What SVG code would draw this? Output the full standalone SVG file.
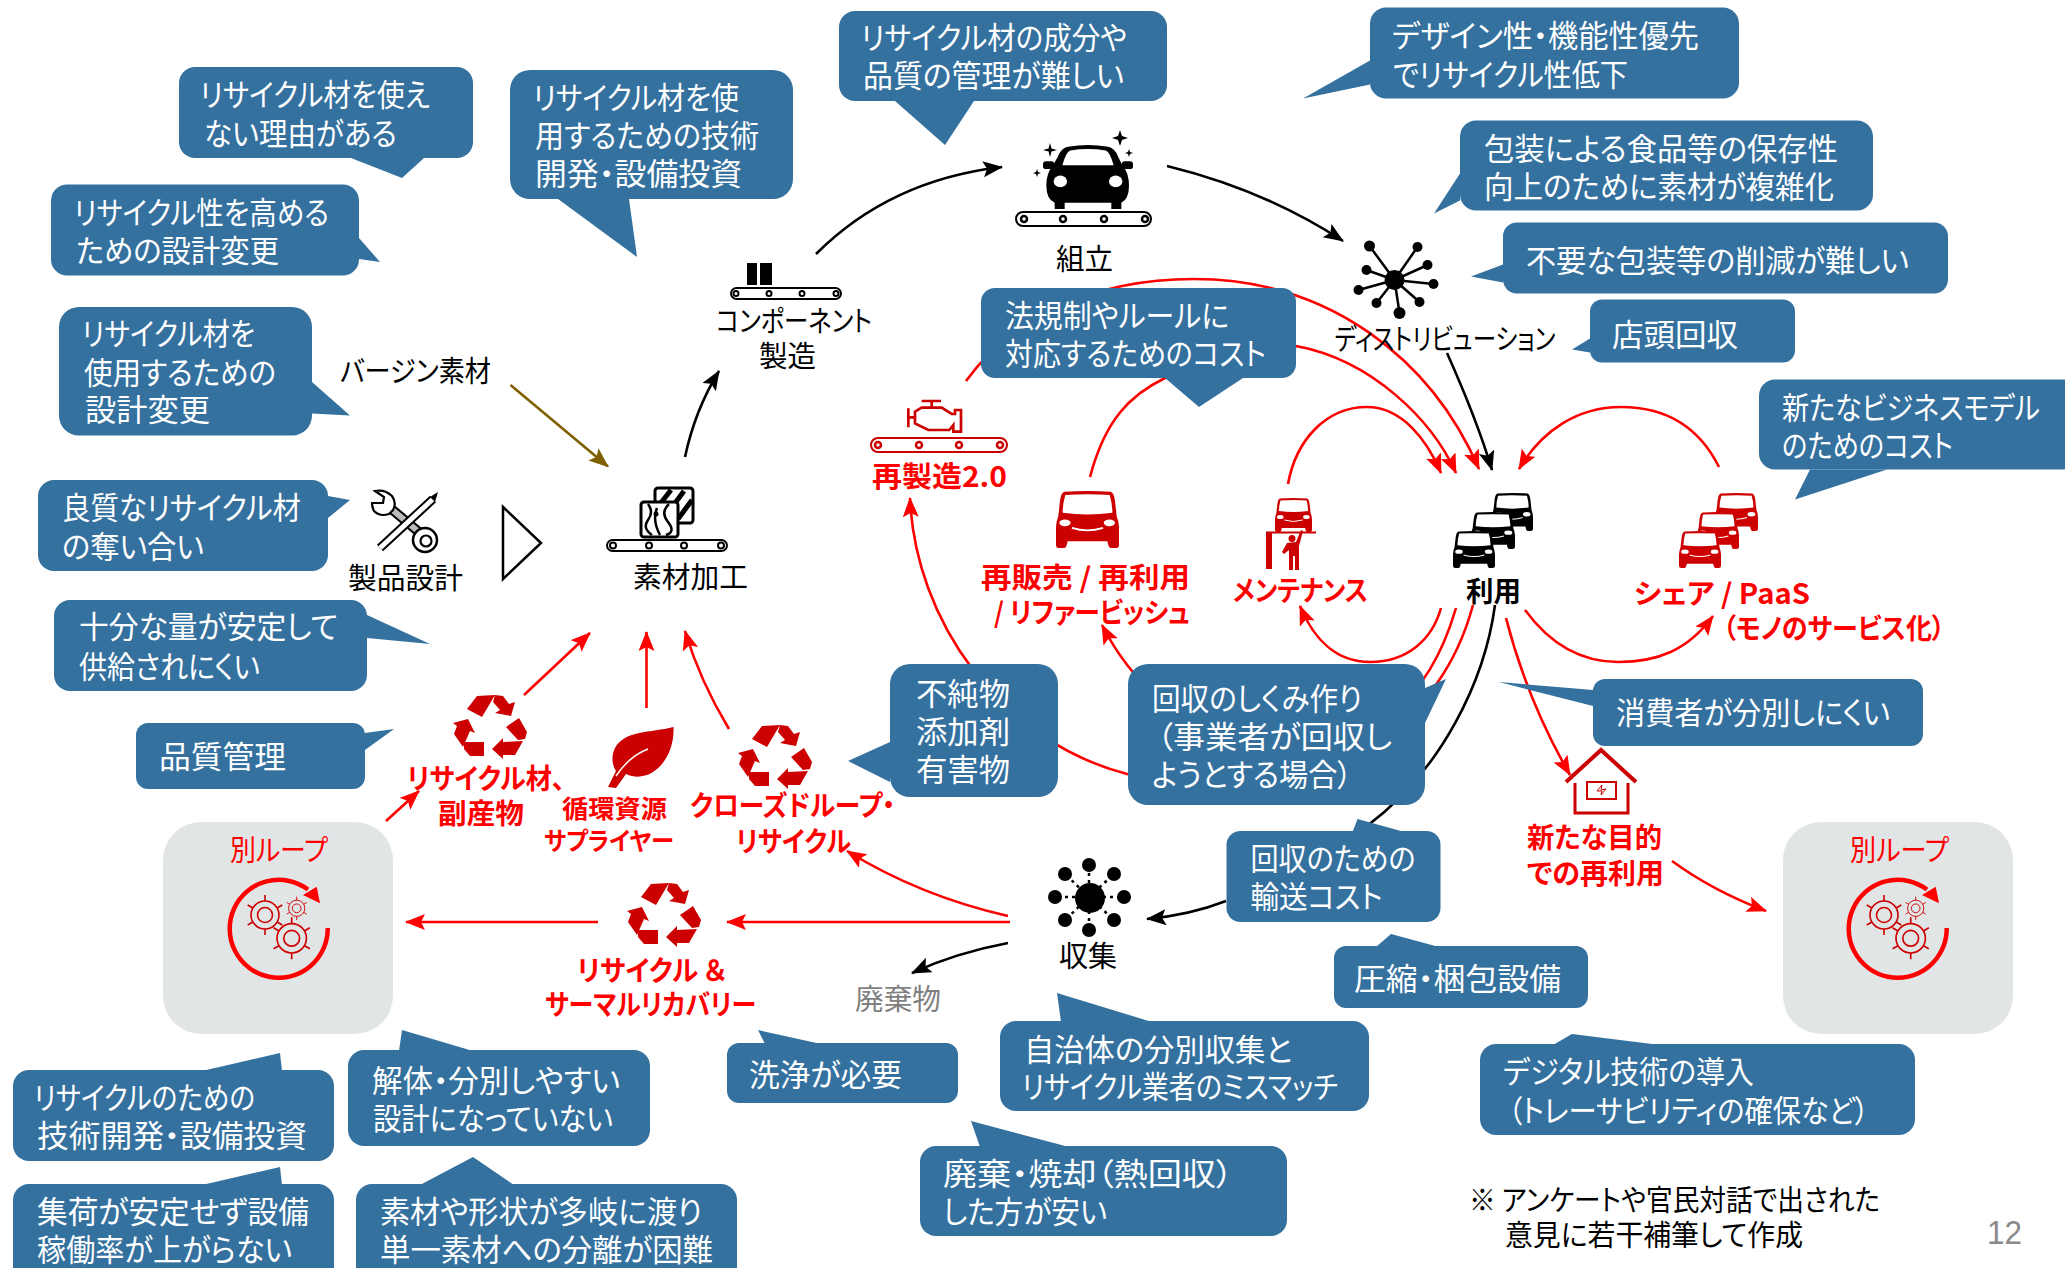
<svg xmlns="http://www.w3.org/2000/svg" width="2065" height="1268" viewBox="0 0 2065 1268">
<style>
text{font-family:"Noto Sans CJK JP","Noto Sans",sans-serif;font-feature-settings:"palt";}
.c rect,.c polygon{fill:#34719f}
.w{fill:#fff;font-size:31px;transform:translateY(1px)}
.k{fill:#000;font-size:29px;transform:translateY(1px)}
.r{fill:#f00;font-size:28px;font-weight:700;transform:translateY(1px)}
.ln{fill:none;stroke-width:2.6}
.red{stroke:#f00}.blk{stroke:#000}
.belt{fill:#fff;stroke:#000;stroke-width:2}
.rb{fill:#fff;stroke:#c00;stroke-width:2}
.box{fill:#e2e5e6}
.gear{fill:none;stroke:#c00;stroke-width:1.6}
</style>
<defs>
<marker id="ar" markerUnits="userSpaceOnUse" markerWidth="22" markerHeight="18" refX="19" refY="8" orient="auto"><path d="M0 0L20 8L0 16L4 8z" fill="#f00"/></marker>
<marker id="ak" markerUnits="userSpaceOnUse" markerWidth="22" markerHeight="18" refX="19" refY="8" orient="auto"><path d="M0 0L20 8L0 16L4 8z" fill="#000"/></marker>
<marker id="ab" markerUnits="userSpaceOnUse" markerWidth="22" markerHeight="18" refX="19" refY="8" orient="auto"><path d="M0 0L20 8L0 16L4 8z" fill="#7f6000"/></marker>
<symbol id="car" viewBox="0 0 270 200" preserveAspectRatio="none">
<path d="M75 5Q135-5 195 5Q215 8 225 35L238 62Q258 85 258 125Q258 165 235 178V197H205V178H65V197H35V178Q10 165 10 125Q10 85 30 62L45 35Q55 8 75 5Z"/>
<rect x="0" y="50" width="34" height="24" rx="9"/><rect x="236" y="50" width="34" height="24" rx="9"/>
<path d="M82 17Q135 8 188 17Q200 20 212 62H58Q70 20 82 17Z" fill="#fff"/>
<ellipse cx="52" cy="112" rx="20" ry="18" fill="#fff"/><ellipse cx="218" cy="112" rx="20" ry="18" fill="#fff"/>
</symbol>
<symbol id="van" viewBox="0 0 190 170" preserveAspectRatio="none">
<path d="M25 2Q95-2 165 2Q175 5 178 30L183 75Q192 95 190 130V160Q190 170 180 170H165Q158 170 155 150H35Q32 170 25 170H10Q0 170 0 160V130Q-2 95 7 75L12 30Q15 5 25 2Z"/>
<path d="M28 12Q95 8 162 12Q170 40 170 65Q95 75 20 65Q20 40 28 12Z" fill="#fff"/>
<ellipse cx="27" cy="95" rx="17" ry="10" fill="#fff"/><ellipse cx="161" cy="95" rx="17" ry="10" fill="#fff"/>
<path d="M48 110Q95 125 142 110" fill="none" stroke="#fff" stroke-width="5"/>
</symbol>
<path id="rec" d="M-23-18L-13-31L5-32L-8-10ZM3-25L5-32L13-31L19-23L25-25L21-11L5-14L10-17ZM16 0L29-9L37 5L35 12L28 13ZM33 14L25 28H13V32L2 22L13 11V15ZM-26 15H-6V29H-20L-26 22ZM-37-4L-22-8L-15 6L-20 4L-27 20L-36 7L-33-1Z"/>
<g id="gr" class="gear"><circle r="14"/><circle r="7.500"/><path d="M0-14V-20M12.100-7L17.300-10M12.100 7L17.300 10M0 14V20M-12.100 7L-17.300 10M-12.100-7L-17.300-10"/></g>
<g id="loop">
<path d="M327.700 928A49 49 0 1 1 308 889.500" fill="none" stroke="#f00" stroke-width="4.500"/>
<path d="M316.700 886.700L320 903.300L303 895Z" fill="#f00"/>
<use href="#gr" transform="translate(265 915)"/>
<use href="#gr" transform="translate(291.700 938.300) scale(1.050)"/>
<use href="#gr" transform="translate(296.700 908.300) scale(.580)"/>
</g>
</defs>

<g id="connectors">
<path class="ln blk" marker-end="url(#ak)" d="M816 254Q890 180 1002 167"/>
<path class="ln blk" marker-end="url(#ak)" d="M1167 166Q1265 190 1343 241"/>
<path class="ln blk" marker-end="url(#ak)" d="M1447 353Q1477 420 1492 470"/>
<path class="ln blk" marker-end="url(#ak)" d="M685 457Q695 410 719 371"/>
<path class="ln" stroke="#7f6000" marker-end="url(#ab)" d="M510.500 385L608 466.500"/>
<path class="ln blk" d="M1495 605C1485 680 1442 770 1367 826"/>
<path class="ln blk" marker-end="url(#ak)" d="M1226 901Q1190 915 1147 919"/>
<path class="ln blk" marker-end="url(#ak)" d="M1008 943Q955 953 912 973"/>
<path class="ln red" marker-end="url(#ar)" d="M966 381C1010 320 1090 279 1194 279C1330 279 1432 360 1479 469"/>
<path class="ln red" marker-end="url(#ar)" d="M1090 477C1105 420 1130 395 1165 378C1200 360 1250 340 1296 346C1372 360 1432 420 1456 473"/>
<path class="ln red" marker-end="url(#ar)" d="M1288 484C1296 440 1326 407 1367 407C1402 407 1427 440 1441 473"/>
<path class="ln red" marker-end="url(#ar)" d="M1719 467C1698 425 1663 407 1621 407C1578 407 1542 430 1519 469"/>
<path class="ln red" marker-end="url(#ar)" d="M1441 608C1432 640 1407 662 1370 662C1337 662 1314 640 1300 606"/>
<path class="ln red" marker-end="url(#ar)" d="M1456 608C1432 690 1380 760 1250 740C1180 730 1130 680 1102 625"/>
<path class="ln red" marker-end="url(#ar)" d="M1473 605C1442 720 1340 810 1127 774C1000 741 915 620 910 498"/>
<path class="ln red" marker-end="url(#ar)" d="M1525 610C1547 640 1577 662 1618 662C1658 662 1688 650 1713 616"/>
<path class="ln red" marker-end="url(#ar)" d="M1506 618Q1527 700 1570 775"/>
<path class="ln red" marker-end="url(#ar)" d="M1672 861Q1713 891 1766 911"/>
<path class="ln red" stroke-width="3.500" marker-end="url(#ar)" d="M1010 922H727"/>
<path class="ln red" stroke-width="3.500" marker-end="url(#ar)" d="M598 922H406"/>
<path class="ln red" marker-end="url(#ar)" d="M1008 916Q920 896 847 851"/>
<path class="ln red" marker-end="url(#ar)" d="M524 695L590 633"/>
<path class="ln red" marker-end="url(#ar)" d="M646.500 708V632"/>
<path class="ln red" marker-end="url(#ar)" d="M729 729Q700 681 685 631"/>
<path class="ln red" marker-end="url(#ar)" d="M386 821L419 791"/>
</g>

<g id="c-a" class="c"><rect x="179" y="67" width="294" height="91" rx="16"/><polygon points="351,158 402,178 424,158"/><text class="w" x="200" y="105" textLength="230" lengthAdjust="spacingAndGlyphs">リサイクル材を使え</text><text class="w" x="204" y="144" textLength="193" lengthAdjust="spacingAndGlyphs">ない理由がある</text></g>
<g id="c-b" class="c"><rect x="51" y="184.500" width="308" height="91" rx="16"/><polygon points="359,238 380,262 359,259"/><text class="w" x="74" y="223" textLength="255" lengthAdjust="spacingAndGlyphs">リサイクル性を高める</text><text class="w" x="76" y="261" textLength="203" lengthAdjust="spacingAndGlyphs">ための設計変更</text></g>
<g id="c-c" class="c"><rect x="59" y="307" width="253" height="128.500" rx="20"/><polygon points="312,382 350,415.500 312,413.500"/><text class="w" x="82" y="344" textLength="173" lengthAdjust="spacingAndGlyphs">リサイクル材を</text><text class="w" x="84" y="383" textLength="192" lengthAdjust="spacingAndGlyphs">使用するための</text><text class="w" x="85" y="420" textLength="125" lengthAdjust="spacingAndGlyphs">設計変更</text></g>
<g id="c-d" class="c"><rect x="510" y="70" width="283" height="129" rx="20"/><polygon points="558,199 637,257 629,199"/><text class="w" x="533" y="108" textLength="206" lengthAdjust="spacingAndGlyphs">リサイクル材を使</text><text class="w" x="535" y="146" textLength="224" lengthAdjust="spacingAndGlyphs">用するための技術</text><text class="w" x="535" y="184" textLength="207" lengthAdjust="spacingAndGlyphs">開発・設備投資</text></g>
<g id="c-e" class="c"><rect x="839" y="11" width="328" height="90" rx="16"/><polygon points="895,101 945,145 974,101"/><text class="w" x="861" y="48" textLength="266" lengthAdjust="spacingAndGlyphs">リサイクル材の成分や</text><text class="w" x="863" y="86" textLength="261" lengthAdjust="spacingAndGlyphs">品質の管理が難しい</text></g>
<g id="c-f" class="c"><rect x="981" y="288" width="315" height="90" rx="14"/><polygon points="1165,378 1199,407 1243,378"/><text class="w" x="1005" y="326" textLength="224" lengthAdjust="spacingAndGlyphs">法規制やルールに</text><text class="w" x="1005" y="364" textLength="261" lengthAdjust="spacingAndGlyphs">対応するためのコスト</text></g>
<g id="c-g" class="c" transform="translate(2 .5)"><rect x="1368" y="7" width="369" height="91" rx="16"/><polygon points="1368,60 1301,98 1368,84"/><text class="w" x="1390" y="45" textLength="307" lengthAdjust="spacingAndGlyphs">デザイン性・機能性優先</text><text class="w" x="1391" y="84" textLength="235" lengthAdjust="spacingAndGlyphs">でリサイクル性低下</text></g>
<g id="c-h" class="c" transform="translate(3 .5)"><rect x="1457" y="120" width="413" height="90" rx="16"/><polygon points="1457,173 1431,213 1457,200"/><text class="w" x="1481" y="158" textLength="354" lengthAdjust="spacingAndGlyphs">包装による食品等の保存性</text><text class="w" x="1481" y="196" textLength="350" lengthAdjust="spacingAndGlyphs">向上のために素材が複雑化</text></g>
<g id="c-i" class="c" transform="translate(3 .5)"><rect x="1500" y="222" width="445" height="71" rx="14"/><polygon points="1500,264 1468,276 1500,282"/><text class="w" x="1523" y="270" textLength="383" lengthAdjust="spacingAndGlyphs">不要な包装等の削減が難しい</text></g>
<g id="c-j" class="c" transform="translate(3 .5)"><rect x="1587" y="299" width="205" height="63" rx="12"/><polygon points="1587,338 1569,349 1587,352"/><text class="w" x="1609" y="344" textLength="126" lengthAdjust="spacingAndGlyphs">店頭回収</text></g>
<g id="c-k" class="c" transform="translate(3 .5)"><rect x="1756" y="379" width="330" height="90" rx="16"/><polygon points="1807,469 1792,499 1884,469"/><text class="w" x="1779" y="417" textLength="258" lengthAdjust="spacingAndGlyphs">新たなビジネスモデル</text><text class="w" x="1779" y="455" textLength="171" lengthAdjust="spacingAndGlyphs">のためのコスト</text></g>
<g id="c-l" class="c"><rect x="38" y="480" width="290" height="91" rx="16"/><polygon points="328,496 350,500 328,518"/><text class="w" x="62" y="518" textLength="239" lengthAdjust="spacingAndGlyphs">良質なリサイクル材</text><text class="w" x="62" y="557" textLength="142" lengthAdjust="spacingAndGlyphs">の奪い合い</text></g>
<g id="c-m" class="c" transform="translate(0 1)"><rect x="54" y="599" width="313" height="91" rx="16"/><polygon points="367,614 430,643 367,637"/><text class="w" x="79" y="636" textLength="259" lengthAdjust="spacingAndGlyphs">十分な量が安定して</text><text class="w" x="79" y="676" textLength="181" lengthAdjust="spacingAndGlyphs">供給されにくい</text></g>
<g id="c-n" class="c" transform="translate(0 1)"><rect x="136" y="722" width="229" height="66" rx="12"/><polygon points="365,732 394,728 365,749"/><text class="w" x="159" y="766" textLength="127" lengthAdjust="spacingAndGlyphs">品質管理</text></g>
<g id="c-o" class="c" transform="translate(0 1)"><rect x="890" y="663" width="168" height="133" rx="20"/><polygon points="890,741 848,760 890,781"/><text class="w" x="916" y="703" textLength="94" lengthAdjust="spacingAndGlyphs">不純物</text><text class="w" x="916" y="741" textLength="94" lengthAdjust="spacingAndGlyphs">添加剤</text><text class="w" x="916" y="779" textLength="94" lengthAdjust="spacingAndGlyphs">有害物</text></g>
<g id="c-p" class="c" transform="translate(1 1)"><rect x="1127" y="663" width="297" height="141" rx="20"/><polygon points="1424,687 1445,678 1424,722"/><text class="w" x="1151" y="708" textLength="210" lengthAdjust="spacingAndGlyphs">回収のしくみ作り</text><text class="w" x="1156" y="746" textLength="235" lengthAdjust="spacingAndGlyphs">（事業者が回収し</text><text class="w" x="1151" y="784" textLength="200" lengthAdjust="spacingAndGlyphs">ようとする場合）</text></g>
<g id="c-q" class="c" transform="translate(3 1)"><rect x="1590" y="678" width="330" height="67" rx="12"/><polygon points="1590,689 1496,681 1590,705"/><text class="w" x="1613" y="722" textLength="274" lengthAdjust="spacingAndGlyphs">消費者が分別しにくい</text></g>
<g id="c-r" class="c" transform="translate(1.500 1)"><rect x="1225" y="830" width="214" height="91" rx="14"/><polygon points="1351,831 1356,818 1403,831"/><text class="w" x="1249" y="868" textLength="165" lengthAdjust="spacingAndGlyphs">回収のための</text><text class="w" x="1249" y="906" textLength="132" lengthAdjust="spacingAndGlyphs">輸送コスト</text></g>
<g id="c-s" class="c" transform="translate(2 1)"><rect x="1332" y="945" width="254" height="62" rx="12"/><polygon points="1374,946 1389,933 1437,946"/><text class="w" x="1352" y="988" textLength="207" lengthAdjust="spacingAndGlyphs">圧縮・梱包設備</text></g>
<g id="c-t" class="c" transform="translate(1 1)"><rect x="999" y="1020" width="369" height="90" rx="16"/><polygon points="1060,1021 1056,992 1151,1021"/><text class="w" x="1023" y="1059" textLength="268" lengthAdjust="spacingAndGlyphs">自治体の分別収集と</text><text class="w" x="1021" y="1096" textLength="316" lengthAdjust="spacingAndGlyphs">リサイクル業者のミスマッチ</text></g>
<g id="c-u" class="c" transform="translate(3 1)"><rect x="1477" y="1043" width="435" height="91" rx="16"/><polygon points="1550,1044 1569,1033 1657,1044"/><text class="w" x="1500" y="1081" textLength="251" lengthAdjust="spacingAndGlyphs">デジタル技術の導入</text><text class="w" x="1505" y="1120" textLength="361" lengthAdjust="spacingAndGlyphs">（トレーサビリティの確保など）</text></g>
<g id="c-v" class="c" transform="translate(0 1)"><rect x="920" y="1145" width="367" height="90" rx="16"/><polygon points="980,1146 971,1120 1069,1146"/><text class="w" x="943" y="1183" textLength="290" lengthAdjust="spacingAndGlyphs">廃棄・焼却（熱回収）</text><text class="w" x="943" y="1221" textLength="164" lengthAdjust="spacingAndGlyphs">した方が安い</text></g>
<g id="c-w" class="c" transform="translate(0 1)"><rect x="727" y="1042" width="231" height="60" rx="12"/><polygon points="765,1043 758,1029 821,1043"/><text class="w" x="749" y="1084" textLength="153" lengthAdjust="spacingAndGlyphs">洗浄が必要</text></g>
<g id="c-x" class="c" transform="translate(0 1)"><rect x="348" y="1049" width="302" height="96" rx="16"/><polygon points="399,1050 402,1029 473,1050"/><text class="w" x="372" y="1090" textLength="248" lengthAdjust="spacingAndGlyphs">解体・分別しやすい</text><text class="w" x="373" y="1128" textLength="240" lengthAdjust="spacingAndGlyphs">設計になっていない</text></g>
<g id="c-y" class="c" transform="translate(0 1)"><rect x="13" y="1069" width="321" height="91" rx="16"/><polygon points="202,1070 280,1052 282,1070"/><text class="w" x="34" y="1107" textLength="221" lengthAdjust="spacingAndGlyphs">リサイクルのための</text><text class="w" x="37" y="1145" textLength="270" lengthAdjust="spacingAndGlyphs">技術開発・設備投資</text></g>
<g id="c-z" class="c" transform="translate(0 1)"><rect x="13" y="1183" width="321" height="110" rx="16"/><polygon points="202,1184 280,1166 282,1184"/><text class="w" x="37" y="1221" textLength="272" lengthAdjust="spacingAndGlyphs">集荷が安定せず設備</text><text class="w" x="37" y="1259" textLength="255" lengthAdjust="spacingAndGlyphs">稼働率が上がらない</text></g>
<g id="c-aa" class="c" transform="translate(0 1)"><rect x="356" y="1183" width="381" height="110" rx="16"/><polygon points="420,1184 473,1156 514,1184"/><text class="w" x="380" y="1221" textLength="322" lengthAdjust="spacingAndGlyphs">素材や形状が多岐に渡り</text><text class="w" x="380" y="1259" textLength="333" lengthAdjust="spacingAndGlyphs">単一素材への分離が困難</text></g>

<g id="n-virgin"><text class="k" x="340" y="381" textLength="151" lengthAdjust="spacingAndGlyphs">バージン素材</text></g>
<g id="n-design">
<path d="M389 507L420 533" stroke="#000" stroke-width="10" fill="none"/><path d="M389 507L420 533" stroke="#bbb" stroke-width="6" fill="none"/>
<path d="M375 491Q385 489 392 496Q397 503 393 510L389 514Q380 517 374 511Q372 507 372 503L383 503L384 497Z" fill="#fff" stroke="#000" stroke-width="2.200"/>
<circle cx="425" cy="540" r="12" fill="#fff" stroke="#000" stroke-width="2.500"/><circle cx="426" cy="541" r="5.500" fill="#fff" stroke="#000" stroke-width="2.200"/>
<path d="M380 548L433 499" fill="none" stroke="#000" stroke-width="9"/><path d="M380 548L433 499" fill="none" stroke="#fff" stroke-width="5"/>
<path d="M430 497L438 492L435 502Z" fill="#000"/>
<text class="k" x="348" y="588" textLength="115" lengthAdjust="spacingAndGlyphs">製品設計</text></g>
<g id="n-triangle"><path d="M503 507L541 543L503 579Z" fill="#fff" stroke="#000" stroke-width="2.500"/></g>
<g id="n-material">
<rect x="655" y="488" width="38" height="35" rx="3" fill="#fff" stroke="#000" stroke-width="3"/><path d="M660 504L671 490M670 510L684 491M678 519L692 500" stroke="#000" stroke-width="5"/>
<rect x="641" y="502" width="37" height="35" rx="3" fill="#fff" stroke="#000" stroke-width="3"/><path d="M648 504Q654 512 648 520T652 535M657 508Q652 520 660 535M669 504Q660 512 668 522T666 535" stroke="#000" stroke-width="2.500" fill="none"/><circle cx="656" cy="514" r="2.500"/>
<rect class="belt" x="607" y="540" width="120" height="11" rx="5.500"/><g fill="#fff" stroke="#000" stroke-width="2"><circle cx="613" cy="545.500" r="3"/><circle cx="649" cy="545.500" r="3"/><circle cx="684" cy="545.500" r="3"/><circle cx="721" cy="545.500" r="3"/></g>
<text class="k" x="633" y="587" textLength="115" lengthAdjust="spacingAndGlyphs">素材加工</text></g>
<g id="n-component">
<path d="M747 263H757V285H747ZM760 263H772V285H760Z"/>
<rect class="belt" x="731" y="288" width="110" height="11" rx="5.500"/><g fill="#fff" stroke="#000" stroke-width="2"><circle cx="736" cy="293.500" r="2.500"/><circle cx="769" cy="293.500" r="2.500"/><circle cx="802" cy="293.500" r="2.500"/><circle cx="836" cy="293.500" r="2.500"/></g>
<text class="k" x="716" y="331" textLength="156" lengthAdjust="spacingAndGlyphs">コンポーネント</text><text class="k" x="759" y="366" textLength="57" lengthAdjust="spacingAndGlyphs">製造</text></g>
<g id="n-assembly">
<use href="#car" x="1043" y="145" width="90" height="65"/>
<path d="M1120 130l2 6 6 2-6 2-2 6-2-6-6-2 6-2zM1050 143l1.500 5.500 5.500 1.500-5.500 1.500-1.500 5.500-1.500-5.500-5.500-1.500 5.500-1.500zM1129 149l1 3 3 1-3 1-1 3-1-3-3-1 3-1zM1037 169l1 3 3 1-3 1-1 3-1-3-3-1 3-1z"/>
<rect class="belt" x="1016" y="212" width="135" height="14" rx="7"/><g fill="#fff" stroke="#000" stroke-width="2.500"><circle cx="1024" cy="219" r="3"/><circle cx="1063" cy="219" r="3"/><circle cx="1104" cy="219" r="3"/><circle cx="1145" cy="219" r="3"/></g>
<text class="k" x="1056" y="269" textLength="57" lengthAdjust="spacingAndGlyphs">組立</text></g>
<g id="n-distribution" transform="translate(1.500 0)">
<g stroke="#000" stroke-width="2.500"><path d="M1393 280L1368 246M1393 280L1416 247M1393 280L1426 265M1393 280L1432 284M1393 280L1418 302M1393 280L1398 313M1393 280L1375 303M1393 280L1357 290M1393 280L1365 270"/></g>
<circle cx="1393" cy="280" r="10"/><circle cx="1368" cy="246" r="5.500"/><circle cx="1416" cy="247" r="5"/><circle cx="1426" cy="265" r="5"/><circle cx="1432" cy="284" r="5"/><circle cx="1418" cy="302" r="5"/><circle cx="1398" cy="313" r="6"/><circle cx="1375" cy="303" r="5"/><circle cx="1357" cy="290" r="5"/><circle cx="1365" cy="270" r="5"/>
<text class="k" x="1333" y="349" textLength="221" lengthAdjust="spacingAndGlyphs">ディストリビューション</text></g>
<g id="n-reman">
<g transform="translate(880 390) scale(.3333)" fill="none" stroke="#c00" stroke-width="8"><path d="M125 33H183M155 33V52M105 65L125 53H185L215 72H225V60H243V125H220V105L208 120H145L105 100ZM85 55V112M85 82H105"/></g>
<rect class="rb" x="871" y="438" width="136" height="14" rx="7"/><g fill="#fff" stroke="#c00" stroke-width="2.500"><circle cx="878" cy="445" r="3"/><circle cx="919" cy="445" r="3"/><circle cx="959" cy="445" r="3"/><circle cx="1000" cy="445" r="3"/></g>
<text class="r" x="872" y="486" textLength="135" lengthAdjust="spacingAndGlyphs">再製造2.0</text></g>
<g id="n-resale" fill="#c00"><use href="#van" x="1056" y="491" width="63" height="57"/>
<text class="r" x="981" y="587" textLength="209" lengthAdjust="spacingAndGlyphs">再販売 / 再利用</text><text class="r" x="994" y="622" textLength="196" lengthAdjust="spacingAndGlyphs">/ リファービッシュ</text></g>
<g id="n-maint" fill="#c00"><use href="#van" x="1275" y="498" width="37" height="34"/>
<path d="M1266 531.500H1316V533.500H1272V569H1266ZM1292 535a3.500 3.500 0 1 1 0 7a3.500 3.500 0 1 1 0-7ZM1287 543L1296 542L1301 530L1303 531L1299 546V570H1295V556H1293V570H1289V550L1284 554L1282 552Z"/>
<text class="r" x="1233" y="600" textLength="135" lengthAdjust="spacingAndGlyphs">メンテナンス</text></g>
<g id="n-use" fill="#000" transform="translate(2 0)"><use href="#van" x="1490" y="493" width="41" height="38"/><use href="#van" x="1469" y="512" width="44" height="37"/><use href="#van" x="1451" y="531" width="42" height="37"/>
<text x="1464" y="602" font-size="28" font-weight="700" textLength="55" lengthAdjust="spacingAndGlyphs">利用</text></g>
<g id="n-share" fill="#c00" transform="translate(3 0)"><use href="#van" x="1712" y="493" width="43" height="38"/><use href="#van" x="1694" y="512" width="42" height="37"/><use href="#van" x="1676" y="531" width="42" height="37"/>
<text class="r" x="1631" y="603" textLength="176" lengthAdjust="spacingAndGlyphs">シェア / PaaS</text><text class="r" x="1720" y="638" textLength="222" lengthAdjust="spacingAndGlyphs">（モノのサービス化）</text></g>
<g id="n-recycled" fill="#c00"><use href="#rec" transform="translate(490 727)"/>
<text class="r" x="407" y="788" textLength="158" lengthAdjust="spacingAndGlyphs">リサイクル材、</text><text class="r" x="438" y="823" textLength="86" lengthAdjust="spacingAndGlyphs">副産物</text></g>
<g id="n-supplier">
<path d="M673.500 727C650 733 625 730 615 748C611 756 612 765 616 771L608 787L616 788L626 774C650 785 675 760 673.500 727Z" fill="#c00"/>
<path d="M648 749C635 754 624 764 616 776" fill="none" stroke="#fff" stroke-width="1.500"/>
<text class="r" x="562" y="817" textLength="105" lengthAdjust="spacingAndGlyphs" style="font-size:25px">循環資源</text><text class="r" x="544" y="849" textLength="130" lengthAdjust="spacingAndGlyphs" style="font-size:25px">サプライヤー</text></g>
<g id="n-closed" fill="#c00"><use href="#rec" transform="translate(775 757)"/>
<text class="r" x="690" y="815" textLength="205" lengthAdjust="spacingAndGlyphs">クローズドループ・</text><text class="r" x="736" y="851" textLength="115" lengthAdjust="spacingAndGlyphs">リサイクル</text></g>
<g id="n-thermal" fill="#c00"><use href="#rec" transform="translate(664 915)"/>
<text class="r" x="577" y="980" textLength="149" lengthAdjust="spacingAndGlyphs">リサイクル ＆</text><text class="r" x="545" y="1014" textLength="211" lengthAdjust="spacingAndGlyphs">サーマルリカバリー</text></g>
<g id="n-collect">
<g stroke="#000" stroke-width="2.500" stroke-dasharray="3 4"><path d="M1089 897V867M1089 897L1114 874M1089 897H1124M1089 897L1114 920M1089 897V930M1089 897L1065 920M1089 897H1055M1089 897L1065 874"/></g>
<circle cx="1090" cy="898" r="15"/><circle cx="1089" cy="865" r="7"/><circle cx="1114" cy="874" r="7"/><circle cx="1124" cy="897" r="7"/><circle cx="1114" cy="920" r="7"/><circle cx="1089" cy="930" r="7"/><circle cx="1065" cy="920" r="7"/><circle cx="1055" cy="897" r="7"/><circle cx="1065" cy="874" r="7"/>
<text class="k" x="1059" y="966" textLength="58" lengthAdjust="spacingAndGlyphs">収集</text></g>
<g id="n-waste"><text class="k" x="855" y="1009" textLength="86" lengthAdjust="spacingAndGlyphs" style="fill:#7f7f7f">廃棄物</text></g>
<g id="n-newuse" transform="translate(3 1)">
<path d="M1563 781L1598 749L1633 781" fill="none" stroke="#c00" stroke-width="4"/><path d="M1572 782V812H1625V782" fill="none" stroke="#c00" stroke-width="3"/>
<rect x="1584" y="781" width="29" height="17" fill="#fff" stroke="#c00" stroke-width="2"/><path d="M1594 790l5-6-1 5 5-1-5 6 1-4z" fill="none" stroke="#c00"/>
<text class="r" x="1524" y="846" textLength="135" lengthAdjust="spacingAndGlyphs">新たな目的</text><text class="r" x="1524" y="882" textLength="137" lengthAdjust="spacingAndGlyphs">での再利用</text></g>
<g id="n-loop-left"><rect class="box" x="163" y="822" width="230" height="212" rx="38"/><text x="230" y="861" font-size="29" fill="#f00" textLength="98" lengthAdjust="spacingAndGlyphs">別ループ</text><use href="#loop"/></g>
<g id="n-loop-right" transform="translate(4 0)"><rect class="box" x="1779" y="822" width="230" height="212" rx="38"/><text x="1846" y="861" font-size="29" fill="#f00" textLength="99" lengthAdjust="spacingAndGlyphs">別ループ</text><use href="#loop" transform="translate(1615 0)"/></g>
<g id="note" transform="translate(2 1)"><text class="k" x="1467" y="1209" textLength="411" lengthAdjust="spacingAndGlyphs">※ アンケートや官民対話で出された</text><text class="k" x="1503" y="1244" textLength="298" lengthAdjust="spacingAndGlyphs">意見に若干補筆して作成</text></g>
<g id="page"><text x="1987" y="1244" font-size="33" fill="#8a8a8a" textLength="35" lengthAdjust="spacingAndGlyphs" style="font-family:'Liberation Sans',sans-serif">12</text></g>
</svg>
